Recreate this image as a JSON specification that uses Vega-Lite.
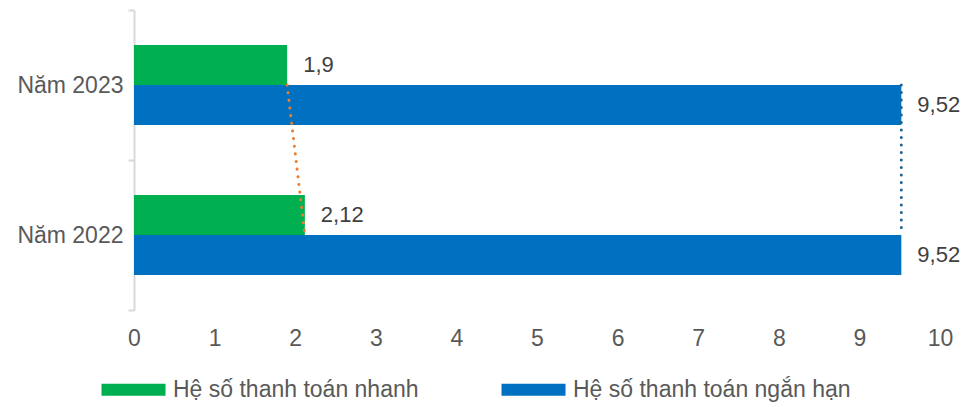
{
  "$schema": "https://vega.github.io/schema/vega-lite/v6.json",
  "width": 806,
  "height": 300,
  "autosize": {"type": "none"},
  "padding": {"left": 134, "top": 10, "right": 28, "bottom": 97},
  "config": {
    "font": "Liberation Sans",
    "view": {"stroke": null},
    "locale": {"number": {"decimal": ",", "thousands": ".", "grouping": [3], "currency": ["", ""]}}
  },
  "data": {
    "values": [
      {"year": "Năm 2023", "series": "Hệ số thanh toán nhanh", "value": 1.9},
      {"year": "Năm 2023", "series": "Hệ số thanh toán ngắn hạn", "value": 9.52},
      {"year": "Năm 2022", "series": "Hệ số thanh toán nhanh", "value": 2.12},
      {"year": "Năm 2022", "series": "Hệ số thanh toán ngắn hạn", "value": 9.52}
    ]
  },
  "encoding": {
    "y": {
      "field": "year",
      "type": "nominal",
      "sort": ["Năm 2023", "Năm 2022"],
      "scale": {"paddingInner": 0, "paddingOuter": 0},
      "axis": {
        "title": null,
        "tickBand": "extent",
        "domainColor": "#d9d9d9",
        "domainWidth": 2,
        "tickColor": "#d9d9d9",
        "tickWidth": 2,
        "tickSize": 6,
        "labelPadding": 5,
        "labelFontSize": 23,
        "labelColor": "#595959"
      }
    }
  },
  "layer": [
    {
      "mark": {"type": "bar"},
      "encoding": {
        "x": {
          "field": "value",
          "type": "quantitative",
          "scale": {"domain": [0, 10]},
          "axis": {
            "title": null,
            "tickCount": 10,
            "grid": false,
            "domain": false,
            "ticks": false,
            "labelFlush": false,
            "labelPadding": 17,
            "labelFontSize": 23,
            "labelColor": "#595959",
            "format": "d"
          }
        },
        "yOffset": {
          "field": "series",
          "type": "nominal",
          "sort": ["Hệ số thanh toán nhanh", "Hệ số thanh toán ngắn hạn"],
          "scale": {"paddingInner": 0, "paddingOuter": 0.875}
        },
        "color": {
          "field": "series",
          "type": "nominal",
          "sort": ["Hệ số thanh toán nhanh", "Hệ số thanh toán ngắn hạn"],
          "scale": {"range": ["#00b050", "#0070c0"]},
          "legend": {
            "title": null,
            "orient": "none",
            "legendX": -12,
            "legendY": 368,
            "padding": 0,
            "direction": "horizontal",
            "columns": 2,
            "columnPadding": 82,
            "symbolType": "M-4,-0.75H4V0.75H-4Z",
            "symbolSize": 256,
            "symbolStrokeWidth": 0,
            "symbolOpacity": 1,
            "labelFontSize": 23,
            "labelColor": "#595959",
            "labelOffset": 28,
            "labelLimit": 400
          }
        }
      }
    },
    {
      "transform": [{"filter": "datum.series === 'Hệ số thanh toán nhanh'"}],
      "mark": {"type": "line", "color": "#ed7d31", "strokeWidth": 3, "strokeCap": "round", "strokeDash": [0.1, 7.6]},
      "encoding": {
        "x": {"field": "value", "type": "quantitative"}
      }
    },
    {
      "transform": [{"filter": "datum.series === 'Hệ số thanh toán ngắn hạn'"}],
      "mark": {"type": "line", "color": "#1f6391", "strokeWidth": 3, "strokeCap": "round", "strokeDash": [0.1, 7.4]},
      "encoding": {
        "x": {"field": "value", "type": "quantitative"}
      }
    },
    {
      "mark": {"type": "text", "align": "left", "baseline": "middle", "dx": 16, "fontSize": 22, "color": "#404040"},
      "encoding": {
        "x": {"field": "value", "type": "quantitative"},
        "yOffset": {
          "field": "series",
          "type": "nominal",
          "sort": ["Hệ số thanh toán nhanh", "Hệ số thanh toán ngắn hạn"]
        },
        "text": {"field": "value", "type": "quantitative", "format": ".2~f"}
      }
    }
  ]
}
